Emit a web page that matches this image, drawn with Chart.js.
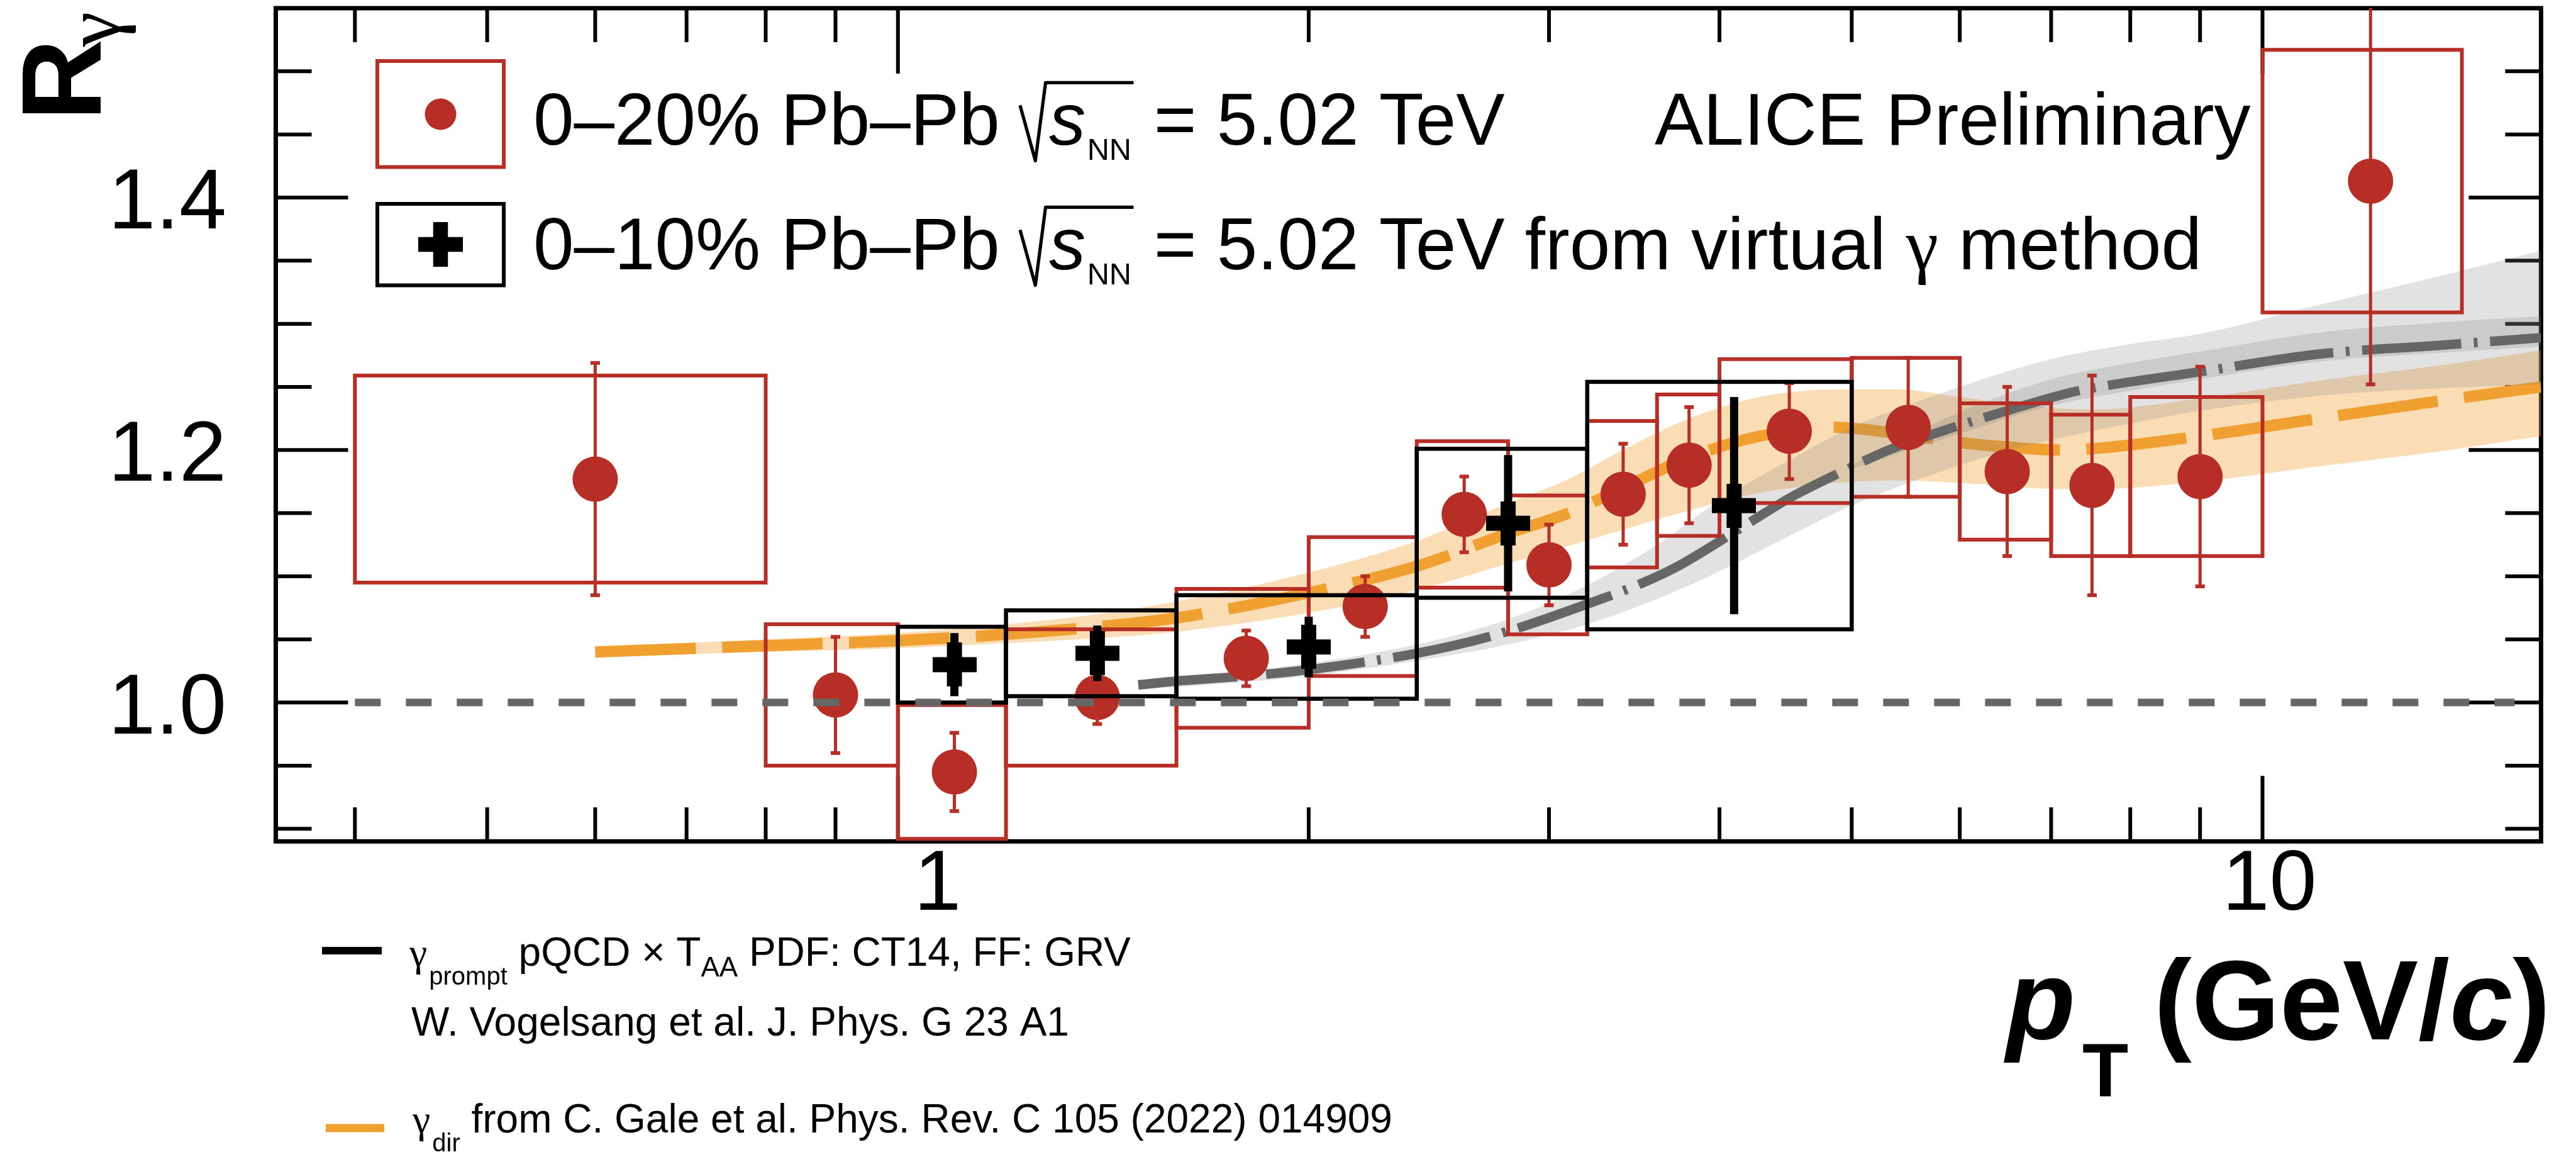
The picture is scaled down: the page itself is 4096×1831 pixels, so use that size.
<!DOCTYPE html>
<html>
<head>
<meta charset="utf-8">
<title>R_gamma in Pb-Pb at 5.02 TeV</title>
<script src="https://cdn.jsdelivr.net/npm/chart.js@4.4.1/dist/chart.umd.min.js"></script>
<style>
  html, body { margin: 0; padding: 0; background: #ffffff; overflow: hidden; }
  #box { position: relative; width: 4096px; height: 1831px; }
</style>
</head>
<body>
<div id="box"><canvas id="chart" width="4096" height="1831"></canvas></div>
<script>
// ---- R_gamma, 0-20% Pb-Pb (real photons) ----
const redX     = [0.6, 0.9, 1.1, 1.4, 1.8, 2.2, 2.6, 3.0, 3.4, 3.8, 4.5, 5.5, 6.5, 7.5, 9.0, 12.0];
const redXLow  = [0.4, 0.8, 1.0, 1.2, 1.6, 2.0, 2.4, 2.8, 3.2, 3.6, 4.0, 5.0, 6.0, 7.0, 8.0, 10.0];
const redXHigh = [0.8, 1.0, 1.2, 1.6, 2.0, 2.4, 2.8, 3.2, 3.6, 4.0, 5.0, 6.0, 7.0, 8.0, 10.0, 14.0];
const redY     = [1.177, 1.006, 0.945, 1.004, 1.035, 1.076, 1.149, 1.109, 1.165, 1.188, 1.215, 1.218, 1.183, 1.172, 1.179, 1.413];
const redStat  = [0.092, 0.046, 0.031, 0.021, 0.022, 0.024, 0.030, 0.032, 0.040, 0.046, 0.038, 0.055, 0.067, 0.087, 0.087, 0.161];
const redSyst  = [0.082, 0.056, 0.053, 0.054, 0.055, 0.055, 0.058, 0.055, 0.058, 0.056, 0.057, 0.055, 0.054, 0.056, 0.063, 0.104];

// ---- R_gamma, 0-10% Pb-Pb (virtual photon method) ----
const virtX     = [1.1, 1.4, 2.0, 2.8, 4.1];
const virtXLow  = [1.0, 1.2, 1.6, 2.4, 3.2];
const virtXHigh = [1.2, 1.6, 2.4, 3.2, 5.0];
const virtY     = [1.030, 1.039, 1.044, 1.142, 1.156];
const virtStat  = [0.025, 0.022, 0.024, 0.054, 0.086];
const virtSyst  = [0.030, 0.034, 0.041, 0.059, 0.098];

// ---- prompt photon pQCD x T_AA ----
const promptX = [1.5, 1.6, 1.8, 2.0, 2.4, 2.75, 3.2, 3.5, 3.73, 4.2, 4.52, 4.9, 5.35, 5.9, 6.4, 7.2, 7.5, 9.0, 11.0, 13.5, 16.0];
const promptY = [1.014, 1.017, 1.021, 1.026, 1.039, 1.054, 1.078, 1.094, 1.108, 1.142, 1.163, 1.182, 1.201, 1.217, 1.229, 1.245, 1.249, 1.262, 1.276, 1.283, 1.289];
const promptBandX  = [1.5, 2.0, 2.4, 2.8, 3.2, 3.6, 4.0, 4.5, 5.0, 6.0, 7.0, 8.0, 9.0, 11.0, 13.5, 16.0];
const promptBandLo = [1.010, 1.021, 1.033, 1.046, 1.062, 1.082, 1.104, 1.132, 1.156, 1.188, 1.208, 1.221, 1.231, 1.243, 1.249, 1.252];
const promptBandHi = [1.018, 1.031, 1.046, 1.066, 1.093, 1.125, 1.160, 1.192, 1.218, 1.250, 1.272, 1.284, 1.292, 1.315, 1.338, 1.358];
const promptScaleX  = [5.0, 6.0, 7.0, 8.0, 9.0, 11.0, 13.5, 16.0];
const promptScaleLo = [1.185, 1.213, 1.235, 1.247, 1.256, 1.270, 1.277, 1.282];
const promptScaleHi = [1.188, 1.230, 1.256, 1.269, 1.278, 1.293, 1.301, 1.306];

// ---- direct photons, C. Gale et al. ----
const gdirX  = [0.6, 0.8, 1.0, 1.2, 1.4, 1.6, 2.0, 2.4, 2.8, 3.1, 3.4, 3.8, 4.28, 4.87, 5.4, 6.0, 6.4, 7.1, 7.5, 9.0, 11.0, 13.5, 16.0];
const gdirY  = [1.040, 1.045, 1.049, 1.054, 1.060, 1.067, 1.087, 1.108, 1.134, 1.150, 1.170, 1.194, 1.211, 1.218, 1.213, 1.206, 1.203, 1.200, 1.201, 1.211, 1.225, 1.239, 1.250];
const gdirLo = [1.036, 1.040, 1.043, 1.047, 1.051, 1.056, 1.071, 1.089, 1.110, 1.124, 1.137, 1.152, 1.166, 1.174, 1.176, 1.174, 1.172, 1.169, 1.169, 1.175, 1.187, 1.199, 1.211];
const gdirHi = [1.044, 1.050, 1.055, 1.062, 1.070, 1.080, 1.103, 1.128, 1.158, 1.177, 1.200, 1.225, 1.242, 1.248, 1.248, 1.242, 1.238, 1.233, 1.232, 1.241, 1.255, 1.267, 1.279];

// ---- unity reference ----
const unityX = [0.4, 15.3];
const unityY = [1.0, 1.0];

// ---- axis ticks ----
const xMajorTicks = [1, 10];
const xTickLabels = ['1', '10'];
const xMinorTicks = [0.4, 0.5, 0.6, 0.7, 0.8, 0.9, 2, 3, 4, 5, 6, 7, 8, 9];
const yMajorTicks = [1.0, 1.2, 1.4];
const yTickLabels = ['1.0', '1.2', '1.4'];
const yMinorTicks = [0.90, 0.95, 1.05, 1.10, 1.15, 1.25, 1.30, 1.35, 1.45, 1.50];

const SANS  = '"Liberation Sans", Arial, Helvetica, sans-serif';
const SERIF = '"Liberation Serif", "DejaVu Serif", serif';
const RED = '#b72e26';
const ORANGE = '#f0a030';
const GREY = '#666666';

const pts = (xs, ys) => xs.map((x, i) => ({ x, y: ys[i] }));

function crossMarker(size, thick, color) {
  const c = document.createElement('canvas');
  c.width = size; c.height = size;
  const g = c.getContext('2d');
  g.fillStyle = color;
  const o = (size - thick) / 2;
  g.fillRect(0, o, size, thick);
  g.fillRect(o, 0, thick, size);
  return c;
}

function clipArea(ctx, a) {
  ctx.beginPath();
  ctx.rect(a.left, a.top, a.right - a.left, a.bottom - a.top);
  ctx.clip();
}

function drawBoxes(ctx, x, y, xl, xh, yc, sy, color, lw) {
  ctx.strokeStyle = color;
  ctx.lineWidth = lw;
  for (let i = 0; i < yc.length; i++) {
    const l = x.getPixelForValue(xl[i]), r = x.getPixelForValue(xh[i]);
    const t = y.getPixelForValue(yc[i] + sy[i]), b = y.getPixelForValue(yc[i] - sy[i]);
    ctx.strokeRect(l, t, r - l, b - t);
  }
}

function drawBars(ctx, x, y, xc, yc, st, color, lw, cap) {
  ctx.strokeStyle = color;
  ctx.fillStyle = color;
  ctx.lineWidth = lw;
  for (let i = 0; i < yc.length; i++) {
    const px = x.getPixelForValue(xc[i]);
    const t = y.getPixelForValue(yc[i] + st[i]), b = y.getPixelForValue(yc[i] - st[i]);
    ctx.beginPath(); ctx.moveTo(px, t); ctx.lineTo(px, b); ctx.stroke();
    if (cap) {
      ctx.fillRect(px - cap / 2, t - 3, cap, 6);
      ctx.fillRect(px - cap / 2, b - 3, cap, 6);
    }
  }
}

// radical sign over italic s with NN subscript; returns the x where it ends
function sqrtSNN(ctx, x0, yb, F) {
  const sx = x0 + 0.40 * F;
  ctx.font = `italic ${F}px ${SANS}`;
  ctx.fillText('s', sx, yb);
  const nnx = sx + ctx.measureText('s').width + 0.02 * F;
  ctx.font = `${0.42 * F}px ${SANS}`;
  ctx.fillText('NN', nnx, yb + 0.21 * F);
  const end = nnx + ctx.measureText('NN').width + 0.03 * F;
  ctx.lineWidth = 0.045 * F;
  ctx.lineJoin = 'round';
  ctx.strokeStyle = '#000';
  ctx.beginPath();
  ctx.moveTo(x0, yb - 0.54 * F);
  ctx.lineTo(x0 + 0.21 * F, yb + 0.22 * F);
  ctx.lineTo(x0 + 0.35 * F, yb - 0.85 * F);
  ctx.lineTo(end, yb - 0.85 * F);
  ctx.stroke();
  return end;
}

// frame with inward ticks on all four sides
const framePlugin = {
  id: 'frame',
  beforeDatasetsDraw(chart) {
    const { ctx, chartArea: a, scales: { x, y } } = chart;
    ctx.save();
    ctx.strokeStyle = '#000';
    ctx.lineCap = 'butt';
    ctx.lineWidth = 6;
    ctx.beginPath();
    const yt = (v, len) => {
      const p = y.getPixelForValue(v);
      ctx.moveTo(a.left, p); ctx.lineTo(a.left + len, p);
      ctx.moveTo(a.right, p); ctx.lineTo(a.right - len, p);
    };
    const xt = (v, len) => {
      const p = x.getPixelForValue(v);
      ctx.moveTo(p, a.bottom); ctx.lineTo(p, a.bottom - len);
      ctx.moveTo(p, a.top); ctx.lineTo(p, a.top + len);
    };
    yMinorTicks.forEach(v => yt(v, 57));
    yMajorTicks.forEach(v => yt(v, 115));
    xMinorTicks.forEach(v => xt(v, 54));
    xMajorTicks.forEach(v => xt(v, 104));
    ctx.stroke();
    ctx.lineWidth = 7;
    ctx.strokeRect(a.left, a.top, a.right - a.left, a.bottom - a.top);
    ctx.restore();
  },
  afterDraw(chart) {
    const { ctx, scales: { x, y } } = chart;
    ctx.save();
    ctx.fillStyle = '#000';
    ctx.textBaseline = 'alphabetic';

    // tick labels
    ctx.font = `135px ${SANS}`;
    ctx.textAlign = 'right';
    yMajorTicks.forEach((v, i) => ctx.fillText(yTickLabels[i], 360, y.getPixelForValue(v) + 49));
    ctx.textAlign = 'center';
    const xNudge = [63, 11];
    xMajorTicks.forEach((v, i) => ctx.fillText(xTickLabels[i], x.getPixelForValue(v) + xNudge[i], 1446));

    // y title
    ctx.textAlign = 'left';
    ctx.save();
    ctx.translate(160, 192);
    ctx.rotate(-Math.PI / 2);
    ctx.font = `bold 180px ${SANS}`;
    ctx.fillText('R', 0, 0);
    ctx.font = `125px ${SERIF}`;
    ctx.fillText('γ', 118, 29);
    ctx.restore();

    // x title
    ctx.font = `italic bold 180px ${SANS}`;
    ctx.fillText('p', 3190, 1652);
    ctx.font = `bold 120px ${SANS}`;
    ctx.fillText('T', 3311, 1743);
    let xx = 3425;
    ctx.font = `bold 180px ${SANS}`;
    ctx.fillText('(GeV/', xx, 1652); xx += ctx.measureText('(GeV/').width;
    ctx.font = `italic bold 180px ${SANS}`;
    ctx.fillText('c', xx, 1652); xx += ctx.measureText('c').width;
    ctx.font = `bold 180px ${SANS}`;
    ctx.fillText(')', xx, 1652);

    // upper legend
    const F = 116;
    ctx.strokeStyle = RED; ctx.lineWidth = 6;
    ctx.strokeRect(600, 97, 201, 168.5);
    ctx.fillStyle = RED;
    ctx.beginPath(); ctx.arc(700.5, 181.5, 25, 0, Math.PI * 2); ctx.fill();
    ctx.strokeStyle = '#000';
    ctx.strokeRect(600, 324, 201, 129.5);
    ctx.fillStyle = '#000';
    ctx.fillRect(700.5 - 35.5, 388.5 - 11.75, 71, 23.5);
    ctx.fillRect(700.5 - 11.75, 388.5 - 35.5, 23.5, 71);

    let lx;
    ctx.font = `${F}px ${SANS}`;
    ctx.fillText('0–20% Pb–Pb ', 848, 230);
    lx = 848 + ctx.measureText('0–20% Pb–Pb ').width;
    lx = sqrtSNN(ctx, lx, 230, F);
    ctx.font = `${F}px ${SANS}`;
    ctx.fillText(' = 5.02 TeV', lx, 230);
    ctx.fillText('ALICE Preliminary', 2631, 230);

    ctx.fillText('0–10% Pb–Pb ', 848, 428);
    lx = 848 + ctx.measureText('0–10% Pb–Pb ').width;
    lx = sqrtSNN(ctx, lx, 428, F);
    ctx.font = `${F}px ${SANS}`;
    ctx.fillText(' = 5.02 TeV from virtual ', lx, 428);
    lx += ctx.measureText(' = 5.02 TeV from virtual ').width;
    ctx.font = `${F}px ${SERIF}`;
    ctx.fillText('γ', lx, 428);
    lx += ctx.measureText('γ').width;
    ctx.font = `${F}px ${SANS}`;
    ctx.fillText(' method', lx, 428);

    // lower legend (model curves)
    const f = 64;
    ctx.lineCap = 'butt';
    ctx.strokeStyle = '#000'; ctx.lineWidth = 12;
    ctx.beginPath(); ctx.moveTo(512, 1511); ctx.lineTo(607, 1511); ctx.stroke();
    ctx.strokeStyle = ORANGE; ctx.lineWidth = 13;
    ctx.beginPath(); ctx.moveTo(518, 1793); ctx.lineTo(611, 1793); ctx.stroke();

    let bx = 651;
    ctx.font = `${f}px ${SERIF}`;
    ctx.fillText('γ', bx, 1535); bx += ctx.measureText('γ').width + 3;
    ctx.font = `40px ${SANS}`;
    ctx.fillText('prompt', bx, 1565); bx += ctx.measureText('prompt').width;
    ctx.font = `${f}px ${SANS}`;
    ctx.fillText(' pQCD × T', bx, 1535); bx += ctx.measureText(' pQCD × T').width;
    ctx.font = `44px ${SANS}`;
    ctx.fillText('AA', bx, 1552); bx += ctx.measureText('AA').width;
    ctx.font = `${f}px ${SANS}`;
    ctx.fillText(' PDF: CT14, FF: GRV', bx, 1535);
    ctx.fillText('W. Vogelsang et al. J. Phys. G 23 A1', 654, 1646);

    bx = 656;
    ctx.font = `${f}px ${SERIF}`;
    ctx.fillText('γ', bx, 1800); bx += ctx.measureText('γ').width + 3;
    ctx.font = `40px ${SANS}`;
    ctx.fillText('dir', bx, 1830); bx += ctx.measureText('dir').width;
    ctx.font = `${f}px ${SANS}`;
    ctx.fillText(' from C. Gale et al. Phys. Rev. C 105 (2022) 014909', bx, 1800);
    ctx.restore();
  }
};

// systematic boxes and statistical bars, drawn just under each marker set
const errorPlugin = {
  id: 'errors',
  beforeDatasetDraw(chart, args) {
    const ds = chart.data.datasets[args.index];
    if (!ds.tag) return;
    const { ctx, chartArea: a, scales: { x, y } } = chart;
    ctx.save();
    clipArea(ctx, a);
    ctx.lineCap = 'butt';
    if (ds.tag === 'real') {
      drawBoxes(ctx, x, y, redXLow, redXHigh, redY, redSyst, RED, 6);
      drawBars(ctx, x, y, redX, redY, redStat, RED, 5, 15);
    } else if (ds.tag === 'virtual') {
      drawBoxes(ctx, x, y, virtXLow, virtXHigh, virtY, virtSyst, '#000', 6.5);
      drawBars(ctx, x, y, virtX, virtY, virtStat, '#000', 13, 0);
    }
    ctx.restore();
  }
};

const hidden = 'rgba(0,0,0,0)';
const band = (data, fill, color, order) => ({
  data, fill, order, backgroundColor: color, borderColor: hidden, borderWidth: 0,
  pointRadius: 0, cubicInterpolationMode: 'monotone'
});

new Chart(document.getElementById('chart'), {
  type: 'line',
  data: {
    datasets: [
      band(pts(gdirX, gdirHi), '+1', 'rgba(243,165,60,0.38)', 10),
      band(pts(gdirX, gdirLo), false, hidden, 10),
      {
        data: pts(gdirX, gdirY), order: 9, borderColor: ORANGE, borderWidth: 18,
        borderDash: [160, 42], borderCapStyle: 'butt', pointRadius: 0, fill: false,
        cubicInterpolationMode: 'monotone'
      },
      band(pts(promptBandX, promptBandHi), '+1', 'rgba(128,128,128,0.23)', 8),
      band(pts(promptBandX, promptBandLo), false, hidden, 8),
      band(pts(promptScaleX, promptScaleHi), '+1', 'rgba(110,110,110,0.2)', 7),
      band(pts(promptScaleX, promptScaleLo), false, hidden, 7),
      {
        data: pts(promptX, promptY), order: 6, borderColor: GREY, borderWidth: 15,
        borderDash: [158, 20, 6, 20], borderCapStyle: 'butt', pointRadius: 0, fill: false,
        cubicInterpolationMode: 'monotone'
      },
      {
        tag: 'real', data: pts(redX, redY), order: 3, showLine: false,
        pointStyle: 'circle', pointRadius: 36, pointBackgroundColor: RED,
        pointBorderWidth: 0, pointBorderColor: RED
      },
      {
        tag: 'virtual', data: pts(virtX, virtY), order: 2, showLine: false,
        pointStyle: crossMarker(70, 24, '#000'), pointRadius: 35
      },
      {
        data: pts(unityX, unityY), order: 1, borderColor: '#666666', borderWidth: 12,
        borderDash: [41, 40], borderCapStyle: 'butt', pointRadius: 0, fill: false
      }
    ]
  },
  options: {
    responsive: false,
    maintainAspectRatio: false,
    devicePixelRatio: 1,
    animation: false,
    events: [],
    layout: { autoPadding: false, padding: { left: 438.5, top: 13, right: 55.6, bottom: 493.7 } },
    scales: {
      x: { type: 'logarithmic', min: 0.35, max: 16, display: false },
      y: { type: 'linear', min: 0.89, max: 1.55, display: false }
    },
    plugins: { legend: { display: false }, tooltip: { enabled: false } }
  },
  plugins: [framePlugin, errorPlugin]
});
</script>
</body>
</html>
